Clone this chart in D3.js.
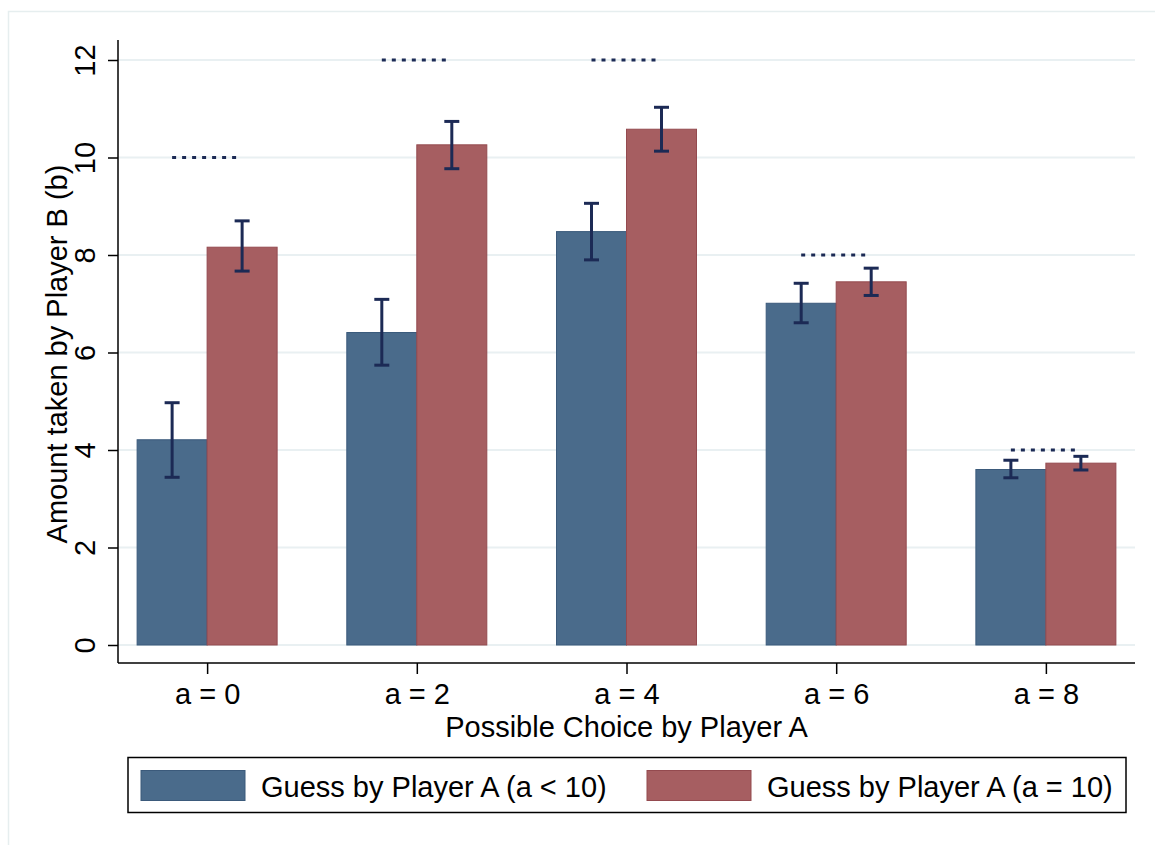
<!DOCTYPE html>
<html>
<head>
<meta charset="utf-8">
<script src="https://cdn.jsdelivr.net/npm/d3@7"></script>
<style>
  html, body { margin: 0; padding: 0; background: #fff; }
  svg { display: block; font-family: "Liberation Sans", Arial, Helvetica, sans-serif; }
</style>
</head>
<body>
<svg id="chart" width="1155" height="845"></svg>
<script>
// ---- data ----
const categories = ["a = 0", "a = 2", "a = 4", "a = 6", "a = 8"];
const seriesNames = ["Guess by Player A (a < 10)", "Guess by Player A (a = 10)"];
const meanLow   = [4.21, 6.41, 8.48, 7.01, 3.60];   // a < 10
const upperLow  = [4.97, 7.09, 9.06, 7.42, 3.79];
const lowerLow  = [3.44, 5.74, 7.90, 6.61, 3.43];
const meanHigh  = [8.16, 10.26, 10.58, 7.45, 3.73]; // a = 10
const upperHigh = [8.70, 10.74, 11.03, 7.73, 3.87];
const lowerHigh = [7.67, 9.77, 10.13, 7.17, 3.59];
const refLevel  = [10, 12, 12, 8, 4];                // dotted reference
const yTicks    = [0, 2, 4, 6, 8, 10, 12];
const xTitle = "Possible Choice by Player A";
const yTitle = "Amount taken by Player B (b)";

const colors = ["#4a6b8b", "#a65e61"];
const strokes = ["#3b5a7b", "#944a4f"];
const errColor = "#1c2a55";
const gridColor = "#e9f0f2";
const FS = 29;

const svg = d3.select("#chart");

// outer faint frame
svg.append("rect").attr("x", 8.5).attr("y", 11.5).attr("width", 1160).attr("height", 850)
  .attr("fill", "none").attr("stroke", "#e6eeef").attr("stroke-width", 1.5);

const plot = { left: 118, right: 1135, top: 40, bottom: 663 };

const y = d3.scaleLinear().domain([0, 12]).range([645, 60]);
const x = d3.scalePoint().domain(categories).range([plot.left, plot.right]).padding(0.425);
const xs = d3.scaleBand().domain([0, 1]).range([-70, 70]).padding(0);

// gridlines
svg.append("g").selectAll("line").data(yTicks).join("line")
  .attr("x1", plot.left).attr("x2", plot.right)
  .attr("y1", d => y(d)).attr("y2", d => y(d))
  .attr("stroke", gridColor).attr("stroke-width", 2);

// bars
const series = [
  { mean: meanLow, up: upperLow, lo: lowerLow },
  { mean: meanHigh, up: upperHigh, lo: lowerHigh }
];
const bars = [];
series.forEach((s, si) => categories.forEach((c, i) => bars.push({ si, c, v: s.mean[i], up: s.up[i], lo: s.lo[i] })));

svg.append("g").selectAll("rect").data(bars).join("rect")
  .attr("x", d => x(d.c) + xs(d.si))
  .attr("width", xs.bandwidth())
  .attr("y", d => y(d.v))
  .attr("height", d => y(0) - y(d.v))
  .attr("fill", d => colors[d.si])
  .attr("stroke", d => strokes[d.si]).attr("stroke-width", 1);

// error bars
const eg = svg.append("g").attr("stroke", errColor).attr("stroke-width", 3);
bars.forEach(d => {
  const cx = x(d.c) + xs(d.si) + xs.bandwidth() / 2;
  eg.append("line").attr("x1", cx).attr("x2", cx).attr("y1", y(d.up)).attr("y2", y(d.lo));
  eg.append("line").attr("x1", cx - 7.5).attr("x2", cx + 7.5).attr("y1", y(d.up)).attr("y2", y(d.up));
  eg.append("line").attr("x1", cx - 7.5).attr("x2", cx + 7.5).attr("y1", y(d.lo)).attr("y2", y(d.lo));
});

// dotted reference lines
svg.append("g").selectAll("line").data(categories).join("line")
  .attr("x1", d => x(d) - 35).attr("x2", d => x(d) + 30)
  .attr("y1", (d, i) => y(refLevel[i])).attr("y2", (d, i) => y(refLevel[i]))
  .attr("stroke", errColor).attr("stroke-width", 3).attr("stroke-dasharray", "4,6");

// y axis
const yAxis = svg.append("g").attr("transform", `translate(${plot.left},0)`)
  .call(d3.axisLeft(y).tickValues(yTicks).tickSize(10).tickFormat(d3.format("d")));
yAxis.select(".domain").attr("d", `M0,${plot.top}V${plot.bottom}`).attr("stroke", "#000").attr("stroke-width", 1.5);
yAxis.selectAll(".tick line").attr("stroke", "#000").attr("stroke-width", 1.5);
yAxis.selectAll(".tick text")
  .attr("x", null).attr("dy", null)
  .attr("transform", "translate(-23,0) rotate(-90)")
  .attr("text-anchor", "middle").attr("font-size", FS).attr("fill", "#000")
  .style("font-family", "'Liberation Sans', Arial, sans-serif");

// x axis
const xAxis = svg.append("g").attr("transform", `translate(0,${plot.bottom})`)
  .call(d3.axisBottom(x).tickSize(11));
xAxis.select(".domain").attr("d", `M${plot.left},0H${plot.right}`).attr("stroke", "#000").attr("stroke-width", 1.5);
xAxis.selectAll(".tick line").attr("stroke", "#000").attr("stroke-width", 1.5);
xAxis.selectAll(".tick text").attr("y", 41).attr("dy", null)
  .attr("font-size", FS).attr("fill", "#000")
  .style("font-family", "'Liberation Sans', Arial, sans-serif");

// titles
svg.append("text").attr("x", (plot.left + plot.right) / 2).attr("y", 737)
  .attr("text-anchor", "middle").attr("font-size", FS).text(xTitle);
svg.append("text").attr("transform", `translate(67,354) rotate(-90)`)
  .attr("text-anchor", "middle").attr("font-size", FS).text(yTitle);

// legend
svg.append("rect").attr("x", 128).attr("y", 757.5).attr("width", 998).attr("height", 55)
  .attr("fill", "#fff").attr("stroke", "#000").attr("stroke-width", 1.5);
const legX = [141, 647];
seriesNames.forEach((n, i) => {
  svg.append("rect").attr("x", legX[i]).attr("y", 770.5).attr("width", 104).attr("height", 30)
    .attr("fill", colors[i]).attr("stroke", strokes[i]).attr("stroke-width", 1);
  svg.append("text").attr("x", legX[i] + 120).attr("y", 797).attr("font-size", FS).text(n);
});
</script>
</body>
</html>
